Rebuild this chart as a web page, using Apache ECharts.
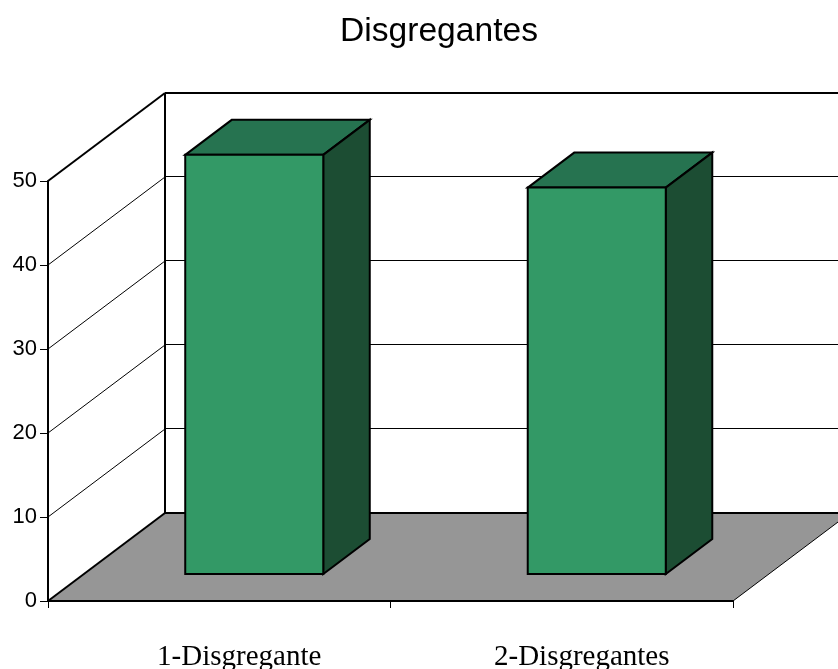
<!DOCTYPE html>
<html>
<head>
<meta charset="utf-8">
<style>html,body{margin:0;padding:0;background:#fff}#chart{width:838px;height:669px}</style>
<script src="https://cdn.jsdelivr.net/npm/echarts@6/dist/echarts.min.js"></script>
</head>
<body>
<div id="chart"></div>
<script>
// Chart content
const chartTitle = 'Disgregantes';
const categories = ['1-Disgregante', '2-Disgregantes'];
const values = [49.9, 46];
const wallTicks = [10, 20, 30, 40];
const axisMin = 0;
const axisMax = 50;
const axisStep = 10;

// Oblique projection used for the box and the columns (pixels)
const BOX_DX = 117, BOX_DY = -88;
const BAR_INSET_DX = 35, BAR_INSET_DY = -27;
const BAR_DX = 46.5, BAR_DY = -35;
const BAR_WIDTH_RATIO = 0.403;

const COL_FRONT = '#339966', COL_TOP = '#267350', COL_SIDE = '#1c4d33', COL_FLOOR = '#969696';

function line(x1, y1, x2, y2, width) {
  return {
    type: 'line',
    shape: { x1, y1, x2, y2 },
    style: { stroke: '#000', lineWidth: width, fill: null }
  };
}
function poly(points, fill, width) {
  return {
    type: 'polygon',
    shape: { points },
    style: { fill, stroke: '#000', lineWidth: width, lineJoin: 'miter' }
  };
}

// Floor and the outer edges of the box
function renderBox(params, api) {
  const cs = params.coordSys;
  const x0 = cs.x, x1 = cs.x + cs.width;
  const yBase = api.coord([0, axisMin])[1];
  const yTop = api.coord([0, axisMax])[1];
  return {
    type: 'group',
    children: [
      {
        type: 'polygon',
        shape: { points: [[x0, yBase], [x1, yBase], [x1 + BOX_DX, yBase + BOX_DY], [x0 + BOX_DX, yBase + BOX_DY]] },
        style: { fill: COL_FLOOR }
      },
      line(x1, yBase, x1 + BOX_DX, yBase + BOX_DY, 1),
      line(x0, yBase, x0 + BOX_DX, yBase + BOX_DY, 2),
      line(x0 + BOX_DX, yBase + BOX_DY, x1 + BOX_DX, yBase + BOX_DY, 2),
      line(x0, yTop, x0 + BOX_DX, yTop + BOX_DY, 2),
      line(x0 + BOX_DX, yTop + BOX_DY, x1 + BOX_DX, yTop + BOX_DY, 2),
      line(x0 + BOX_DX, yTop + BOX_DY, x0 + BOX_DX, yBase + BOX_DY, 2)
    ]
  };
}

// Gridlines running along the side wall and the back wall
function renderWallLine(params, api) {
  const cs = params.coordSys;
  const x0 = cs.x, x1 = cs.x + cs.width;
  const y = api.coord([0, api.value(0)])[1];
  return {
    type: 'group',
    children: [
      line(x0, y, x0 + BOX_DX, y + BOX_DY, 1),
      line(x0 + BOX_DX, y + BOX_DY - 0.5, x1 + BOX_DX, y + BOX_DY - 0.5, 1)
    ]
  };
}

// One extruded column: front, top and side faces
function renderColumn(params, api) {
  const idx = api.value(0);
  const top = api.coord([idx, api.value(1)]);
  const base = api.coord([idx, axisMin]);
  const w = api.size([1, 0])[0] * BAR_WIDTH_RATIO;
  const l = top[0] - w / 2 + BAR_INSET_DX, r = l + w;
  const t = top[1] + BAR_INSET_DY, b = base[1] + BAR_INSET_DY;
  return {
    type: 'group',
    children: [
      poly([[l, t], [l + BAR_DX, t + BAR_DY], [r + BAR_DX, t + BAR_DY], [r, t]], COL_TOP, 2),
      poly([[r, t], [r + BAR_DX, t + BAR_DY], [r + BAR_DX, b + BAR_DY], [r, b]], COL_SIDE, 2),
      poly([[l, t], [r, t], [r, b], [l, b]], COL_FRONT, 2)
    ]
  };
}

const chart = echarts.init(document.getElementById('chart'), null, { renderer: 'canvas' });
chart.setOption({
  animation: false,
  backgroundColor: '#fff',
  title: {
    text: chartTitle,
    left: 434,
    top: 10,
    textAlign: 'center',
    textStyle: { fontFamily: 'Liberation Sans', fontSize: 33.6, fontWeight: 'normal', color: '#000' }
  },
  grid: { left: 48, right: 105, top: 181, bottom: 68, containLabel: false, outerBoundsMode: 'none' },
  xAxis: {
    type: 'category',
    data: categories,
    z: 5,
    axisLine: { show: true, lineStyle: { color: '#000', width: 2 } },
    axisTick: { show: true, alignWithLabel: false, length: 7, lineStyle: { color: '#000', width: 1 } },
    axisLabel: {
      margin: 42,
      padding: [0, 0, 0, 40],
      interval: 0,
      fontFamily: 'Liberation Serif',
      fontSize: 29,
      color: '#000'
    }
  },
  yAxis: {
    type: 'value',
    min: axisMin,
    max: axisMax,
    interval: axisStep,
    z: 5,
    splitLine: { show: false },
    axisLine: { show: true, lineStyle: { color: '#000', width: 2 } },
    axisTick: { show: true, length: 8, lineStyle: { color: '#000', width: 1 } },
    axisLabel: { margin: 11, fontFamily: 'Liberation Sans', fontSize: 22, color: '#000' }
  },
  series: [
    { type: 'custom', z: 1, clip: false, silent: true, data: [[0]], renderItem: renderBox },
    { type: 'custom', z: 2, clip: false, silent: true, data: wallTicks.map(v => [v]), renderItem: renderWallLine, encode: { y: 0 } },
    {
      type: 'custom', z: 3, clip: false, silent: true,
      data: values.map((v, i) => [i, v]),
      encode: { x: 0, y: 1 },
      renderItem: renderColumn
    }
  ]
});
</script>
</body>
</html>
